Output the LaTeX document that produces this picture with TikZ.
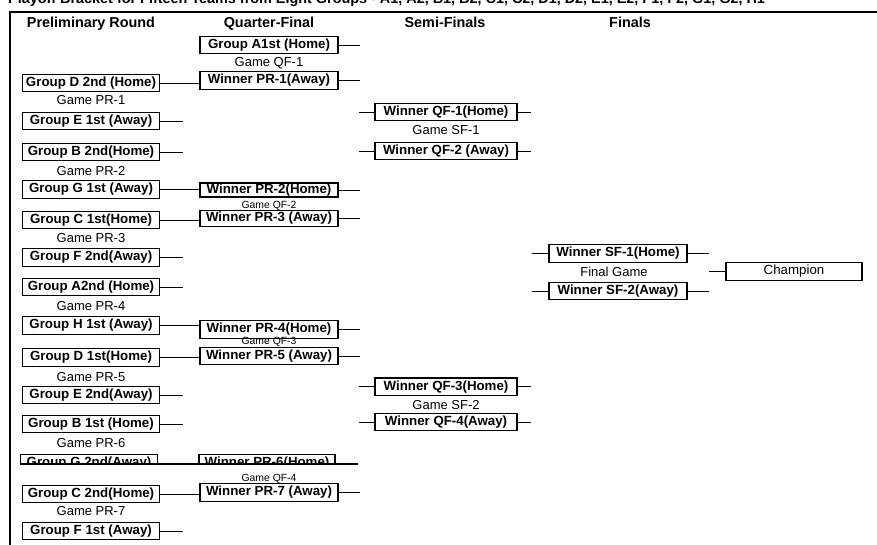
\documentclass[tikz,border=0pt]{standalone}
\usepackage{fontspec}
\setmainfont{Liberation Sans}
\usetikzlibrary{positioning}
\begin{document}
\begin{tikzpicture}[x=1pt, y=-1pt]
\tikzset{
    teambox/.style={rectangle, draw=black, line width=1.2pt, font=\fontsize{13.3}{15}\selectfont\bfseries, minimum width=138pt, minimum height=17.5pt, inner sep=0pt, text centered},
    gamelabel/.style={font=\fontsize{13}{15}\selectfont, inner sep=0pt},
    smalllabel/.style={font=\fontsize{10.4}{12}\selectfont, inner sep=0pt},
    roundtitle/.style={font=\fontsize{14.4}{16}\selectfont\bfseries, inner sep=0pt, anchor=base},
    myline/.style={line width=0.9pt}
}
\useasboundingbox (0,0) rectangle (877,545);
\clip (0,0) rectangle (877,545);
\fill[white] (0,0) rectangle (877,545);

\node[anchor=base west, inner sep=0pt, font=\fontsize{14.4}{16}\selectfont\bfseries] (title) at (8,3.5)
    {Playoff Bracket for Fifteen Teams from Eight Groups - A1, A2, B1, B2, C1, C2, D1, D2, E1, E2, F1, F2, G1, G2, H1};
\draw[line width=1.2pt] (10,545) -- (10,12) -- (877,12);

\node[roundtitle] (hpr) at (91,28) {Preliminary Round};
\node[roundtitle] (hqf) at (269,28) {Quarter-Final};
\node[roundtitle] (hsf) at (445,28) {Semi-Finals};
\node[roundtitle] (hfn) at (630,28) {Finals};

% stub ends of each round
\coordinate (prstub) at (183,0);
\coordinate (qfstub) at (360,0);
\coordinate (sfin) at (359,0);
\coordinate (sfout) at (531,0);
\coordinate (fnin) at (532,0);
\coordinate (fnout) at (709,0);

% preliminary round
\node[teambox, minimum width=137pt] (d2) at (91,83) {Group D 2nd (Home)};
\node[gamelabel] (gpr1) at (91,100.5) {Game PR-1};
\node[teambox, minimum width=137pt] (e1) at (91,121) {Group E 1st (Away)};
\node[teambox, minimum width=137pt] (b2) at (91,152) {Group B 2nd(Home)};
\node[gamelabel] (gpr2) at (91,171) {Game PR-2};
\node[teambox, minimum width=137pt] (g1) at (91,189.5) {Group G 1st (Away)};
\node[teambox, minimum width=137pt] (c1) at (91,220) {Group C 1st(Home)};
\node[gamelabel] (gpr3) at (91,238) {Game PR-3};
\node[teambox, minimum width=137pt] (f2) at (91,257.5) {Group F 2nd(Away)};
\node[teambox, minimum width=137pt] (a2) at (91,287) {Group A2nd (Home)};
\node[gamelabel] (gpr4) at (91,306.5) {Game PR-4};
\node[teambox, minimum width=137pt] (h1) at (91,325.5) {Group H 1st (Away)};
\node[teambox, minimum width=137pt] (d1) at (91,357.5) {Group D 1st(Home)};
\node[gamelabel] (gpr5) at (91,377) {Game PR-5};
\node[teambox, minimum width=137pt] (e2) at (91,395) {Group E 2nd(Away)};
\node[teambox, minimum width=137pt] (b1) at (91,424) {Group B 1st (Home)};
\node[gamelabel] (gpr6) at (91,443) {Game PR-6};
\node[teambox, minimum width=137pt] (c2) at (91,494) {Group C 2nd(Home)};
\node[gamelabel] (gpr7) at (91,511.5) {Game PR-7};
\node[teambox, minimum width=137pt] (f1) at (91,531) {Group F 1st (Away)};

% quarter-final
\node[teambox] (qa1) at (269,45) {Group A1st (Home)};
\node[gamelabel] (gqf1) at (269,63) {Game QF-1};
\node[teambox] (w1) at (269,80.5) {Winner PR-1(Away)};
\node[teambox, minimum height=14pt] (w2) at (269,190) {Winner PR-2(Home)};
\node[smalllabel] (gqf2) at (269,206) {Game QF-2};
\node[teambox, minimum height=16pt] (w3) at (269,218.5) {Winner PR-3 (Away)};
\node[teambox] (w4) at (269,329.5) {Winner PR-4(Home)};
\node[smalllabel] (gqf3) at (269,341.5) {Game QF-3};
\node[teambox] (w5) at (269,356) {Winner PR-5 (Away)};
\node[smalllabel] (gqf4) at (269,479) {Game QF-4};
\node[teambox] (w7) at (269,492.5) {Winner PR-7 (Away)};

% the cut-off row
\begin{scope}
\clip (12,0) rectangle (877,464);
\node[teambox, minimum width=137pt] (g2) at (89,463) {Group G 2nd(Away)};
\node[teambox, minimum width=136pt] (w6) at (267,463) {Winner PR-6(Home)};
\end{scope}
\coordinate (cut) at (358,464);
\draw[line width=1.3pt] (g2.west |- cut) -- (cut);

% semi-finals
\node[teambox, minimum width=142pt] (s1) at (446,112) {Winner QF-1(Home)};
\node[gamelabel] (gsf1) at (446,130) {Game SF-1};
\node[teambox, minimum width=142pt] (s2) at (446,151) {Winner QF-2 (Away)};
\node[teambox, minimum width=142pt] (s3) at (446,386.7) {Winner QF-3(Home)};
\node[gamelabel] (gsf2) at (446,405) {Game SF-2};
\node[teambox, minimum width=142pt] (s4) at (446,422) {Winner QF-4(Away)};

% finals
\node[teambox] (fw1) at (618,253.5) {Winner SF-1(Home)};
\node[gamelabel] (gfinal) at (614,271.7) {Final Game};
\node[teambox] (fw2) at (618,291) {Winner SF-2(Away)};
\node[teambox, font=\fontsize{13.3}{15}\selectfont, minimum width=136pt] (champ) at (794,271.5) {Champion};

% games that go on to the next round
\draw[myline] (d2.east) -- (d2.east -| w1.west)
    (g1.east) -- (g1.east -| w2.west)
    (c1.east) -- (c1.east -| w3.west)
    (h1.east) -- (h1.east -| w4.west)
    (d1.east) -- (d1.east -| w5.west)
    (c2.east) -- (c2.east -| w7.west);
% open stubs
\draw[myline] (e1.east) -- (e1.east -| prstub)
    (b2.east) -- (b2.east -| prstub)
    (f2.east) -- (f2.east -| prstub)
    (a2.east) -- (a2.east -| prstub)
    (e2.east) -- (e2.east -| prstub)
    (b1.east) -- (b1.east -| prstub)
    (f1.east) -- (f1.east -| prstub);
\draw[myline] (qa1.east) -- (qa1.east -| qfstub)
    (w1.east) -- (w1.east -| qfstub)
    (w2.east) -- (w2.east -| qfstub)
    (w3.east) -- (w3.east -| qfstub)
    (w4.east) -- (w4.east -| qfstub)
    (w5.east) -- (w5.east -| qfstub)
    (w7.east) -- (w7.east -| qfstub);
\draw[myline] (s1.west -| sfin) -- (s1.west) (s1.east) -- (s1.east -| sfout)
    (s2.west -| sfin) -- (s2.west) (s2.east) -- (s2.east -| sfout)
    (s3.west -| sfin) -- (s3.west) (s3.east) -- (s3.east -| sfout)
    (s4.west -| sfin) -- (s4.west) (s4.east) -- (s4.east -| sfout);
\draw[myline] (fw1.west -| fnin) -- (fw1.west) (fw1.east) -- (fw1.east -| fnout)
    (fw2.west -| fnin) -- (fw2.west) (fw2.east) -- (fw2.east -| fnout)
    (champ.west -| fnout) -- (champ.west);

\end{tikzpicture}
\end{document}
